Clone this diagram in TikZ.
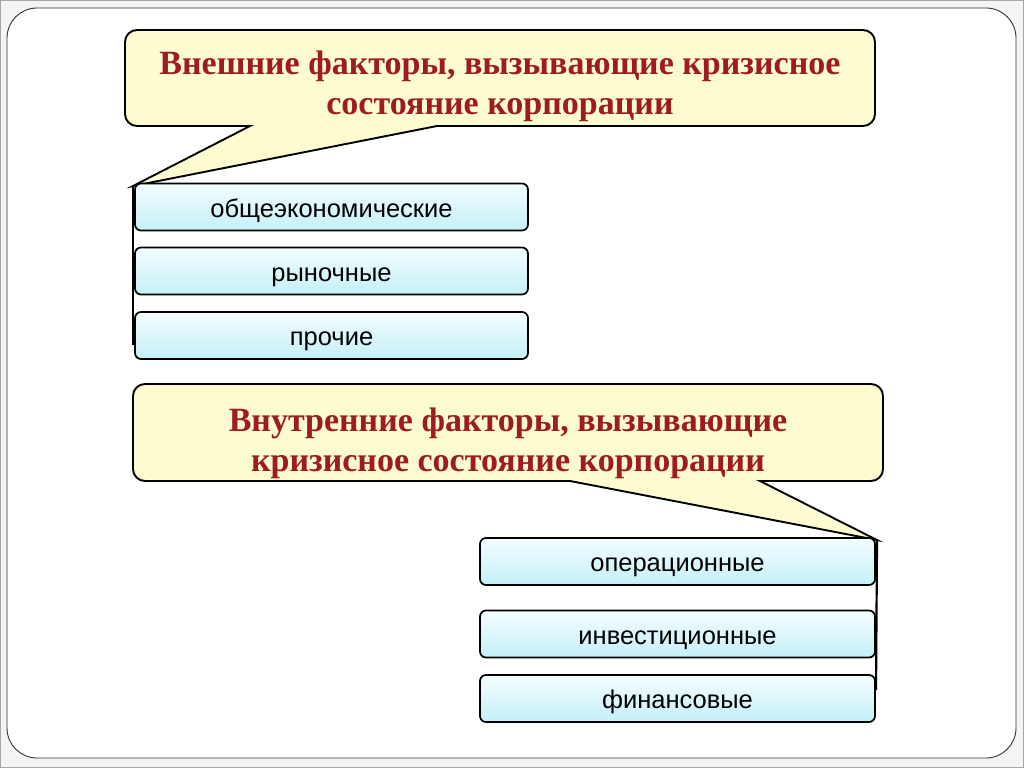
\documentclass[tikz,border=0pt]{standalone}
\usepackage{fontspec}
\setmainfont{Liberation Serif}
\newfontfamily\arialfont{Liberation Sans}
\definecolor{titlered}{HTML}{9E1B20}
\definecolor{calloutfill}{HTML}{FDFBD0}
\definecolor{boxtop}{HTML}{F4FDFE}
\definecolor{boxbottom}{HTML}{C4F0F8}
\definecolor{pagebg}{HTML}{F4F4F4}
\tikzset{
  callout/.style={draw=black, line width=1.9pt, fill=calloutfill, line join=miter},
  titletext/.style={text=titlered, font=\fontsize{34}{40}\selectfont\bfseries, align=center, inner sep=0pt},
  factor/.style={draw=black, line width=1.7pt, rounded corners=6pt, top color=boxtop, bottom color=boxbottom,
    minimum width=393pt, minimum height=47pt, inner sep=0pt, text height=24pt, text depth=4pt,
    font=\arialfont\fontsize{25.5}{28}\selectfont},
  stem/.style={draw=black, line width=2.2pt}
}
\begin{document}
\begin{tikzpicture}[x=1pt,y=-1pt]
\useasboundingbox (0,0) rectangle (1024,768);
\draw[fill=pagebg, draw=gray!70, line width=1pt] (0.5,0.5) rectangle (1023.5,767.5);
\draw[fill=white, draw=black!80, line width=0.9pt, rounded corners=30pt] (7,8) rectangle (1016,758);

% callout 1
\coordinate (tip1) at (133,186);
\draw[callout] (437,126) [rounded corners=12pt] -- (875,126) -- (875,30) -- (125,30) -- (125,126) [sharp corners] -- (250,126) -- (tip1) -- cycle;
\node[titletext] (ext) at (500,86) {Внешние факторы, вызывающие кризисное\\состояние корпорации};

% external factor boxes
\node[factor] (b1) at (331.5,207) {общеэкономические};
\node[factor] (b2) at (331.5,271) {рыночные};
\node[factor] (b3) at (331.5,335.5) {прочие};
\coordinate (end1) at (133,345);
\draw[stem] (tip1) -- (end1);

% callout 2
\coordinate (tip2) at (877,540);
\draw[callout] (760,481) [rounded corners=12pt] -- (883,481) -- (883,384) -- (133,384) -- (133,481) [sharp corners] -- (570,481) -- (tip2) -- cycle;
\node[titletext] (int) at (508,443) {Внутренние факторы, вызывающие\\кризисное состояние корпорации};

% internal factor boxes
\node[factor, minimum width=395pt] (b4) at (677.5,561.5) {операционные};
\node[factor, minimum width=395pt] (b5) at (677.5,634) {инвестиционные};
\node[factor, minimum width=395pt] (b6) at (677.5,698.5) {финансовые};
\coordinate (end2) at (876,690);
\draw[stem] (tip2) -- (end2);
\end{tikzpicture}
\end{document}
